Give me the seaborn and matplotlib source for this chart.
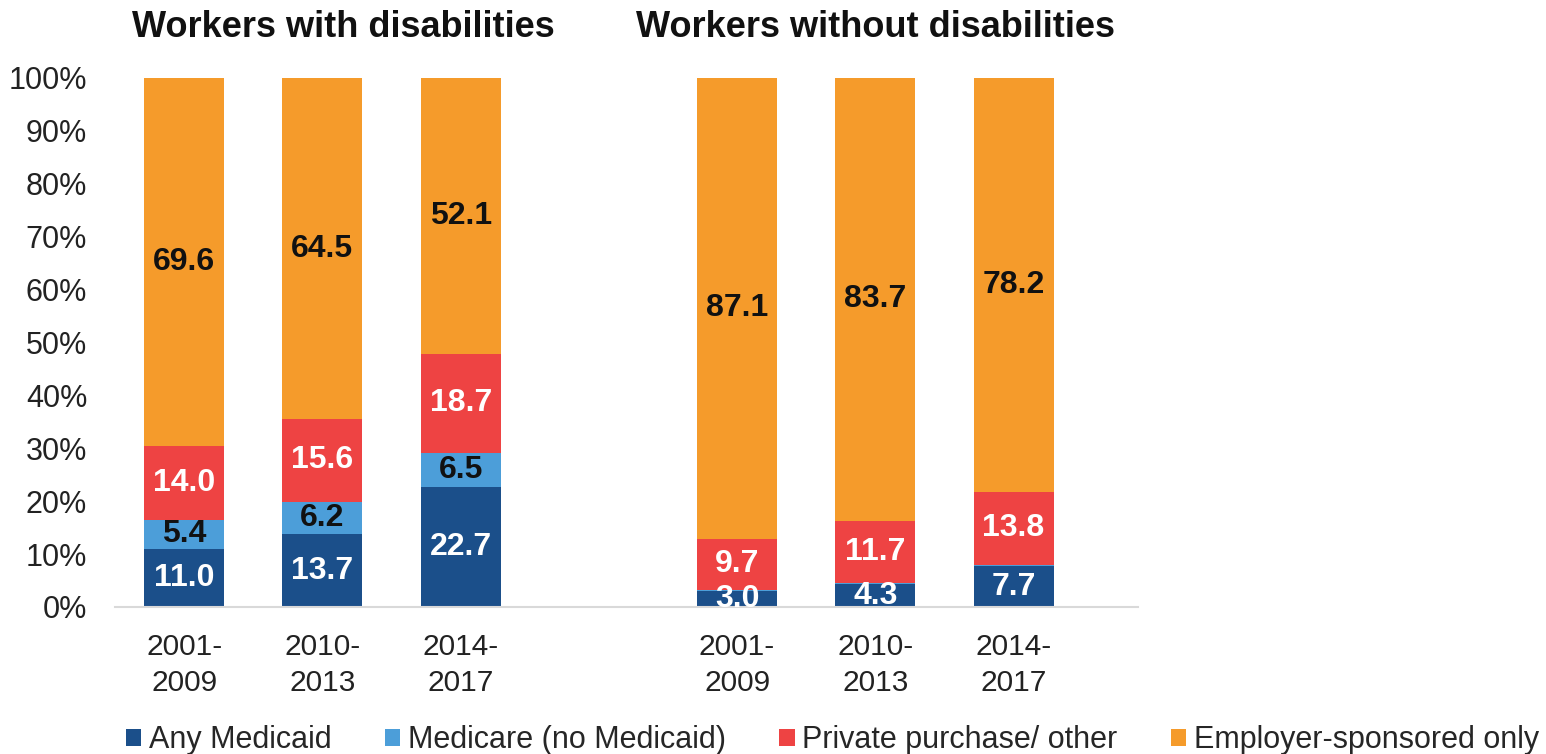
import matplotlib
matplotlib.use("Agg")
import matplotlib.pyplot as plt
import seaborn as sns
import pandas as pd
import numpy as np
from matplotlib.patches import Patch

sns.set_theme(style="white")
plt.rcParams['font.family'] = ['Liberation Sans', 'DejaVu Sans']

groups = ["Workers with disabilities", "Workers without disabilities"]
periods = ["2001-\n2009", "2010-\n2013", "2014-\n2017"]
series = ["Any Medicaid", "Medicare (no Medicaid)", "Private purchase/ other", "Employer-sponsored only"]
colors = ["#1B4F8A", "#4C9ED9", "#EE4343", "#F59B2B"]
label_colors = ["white", "#111111", "white", "#111111"]

medicaid = [11.0, 13.7, 22.7, 3.0, 4.3, 7.7]
medicare = [5.4, 6.2, 6.5, 0.2, 0.3, 0.3]
private = [14.0, 15.6, 18.7, 9.7, 11.7, 13.8]
employer = [69.6, 64.5, 52.1, 87.1, 83.7, 78.2]
show_label = [[True, True, True, True, True, True],
              [True, True, True, False, False, False],
              [True, True, True, True, True, True],
              [True, True, True, True, True, True]]

vals = np.array([medicaid, medicare, private, employer])
cum = np.cumsum(vals, axis=0)

# x positions: group gap of one slot
xpos = []
for g in range(len(groups)):
    for p in range(len(periods)):
        xpos.append(g * (len(periods) + 1) + p)
xpos = np.array(xpos, dtype=float)

fig = plt.figure(figsize=(15.46, 7.54), dpi=100)
ax = fig.add_axes([0.0744, 0.195, 0.6617, 0.7016])

for i in reversed(range(len(series))):
    df = pd.DataFrame({"x": xpos, "y": cum[i]})
    sns.barplot(data=df, x="x", y="y", native_scale=True, orient="v",
                color=colors[i], saturation=1, width=0.58, ax=ax,
                edgecolor="none", linewidth=0)

for i in range(len(series)):
    for j in range(len(xpos)):
        if not show_label[i][j]:
            continue
        center = cum[i][j] - vals[i][j] / 2
        ax.text(xpos[j], center, f"{vals[i][j]:.1f}", ha="center", va="center",
                fontsize=23, fontweight="bold", color=label_colors[i])

ax.set_xlim(-0.5, 6.9)
ax.set_ylim(0, 100)
ax.set_yticks(np.arange(0, 101, 10))
ax.set_yticklabels([f"{v}%" for v in range(0, 101, 10)], fontsize=22, color="#222222")
ax.set_xticks(xpos)
ax.set_xticklabels(periods * 2, fontsize=21.5, color="#222222", linespacing=1.35)
ax.tick_params(axis="y", length=0, pad=20)
ax.tick_params(axis="x", length=0, pad=19)
ax.set_xlabel("")
ax.set_ylabel("")
for s in ["top", "right", "left"]:
    ax.spines[s].set_visible(False)
ax.spines["bottom"].set_color("#D9D9D9")
ax.spines["bottom"].set_linewidth(1.5)

title_offsets = [0.15, 0.0]
for g, name in enumerate(groups):
    cx = g * (len(periods) + 1) + 1 + title_offsets[g]
    ax.text(cx, 106.2, name, ha="center", va="bottom", fontsize=26,
            fontweight="bold", color="#111111", transform=ax.transData)

handles = [Patch(facecolor=c, edgecolor="none") for c in colors]
fig.legend(handles, series, loc="center left", bbox_to_anchor=(0.0815, 0.018),
           ncol=4, frameon=False, fontsize=22, handlelength=0.5, handleheight=0.5,
           handletextpad=0.25, columnspacing=1.75, borderaxespad=0, borderpad=0)

fig.savefig("out.png", dpi=100)
